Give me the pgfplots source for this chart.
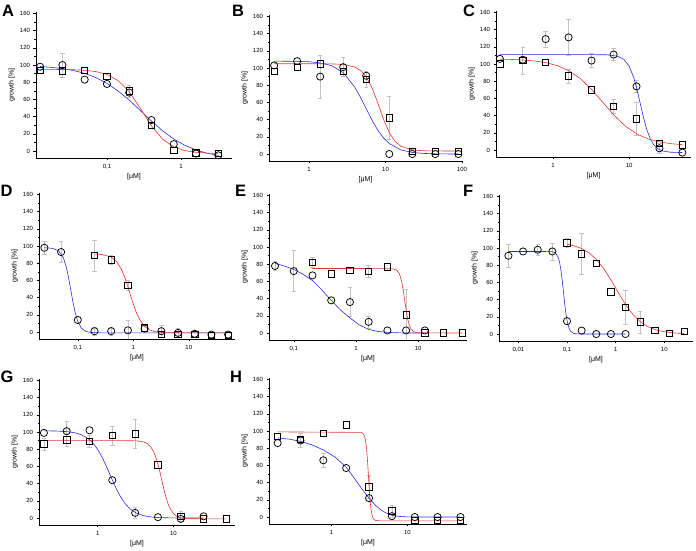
\documentclass[border=0pt]{standalone}
\usepackage{fontspec}
\setmainfont{Liberation Sans}
\usepackage{pgfplots}
\pgfplotsset{compat=1.18}
\definecolor{cred}{RGB}{228,52,52}
\definecolor{cblue}{RGB}{45,45,215}
\definecolor{cerr}{RGB}{195,195,195}
\pgfplotsset{
 /pgfplots/mypanel/.style={scale only axis, height=146.2pt, ymin=-8, ymax=162,
   axis x line*=bottom, axis y line*=left, axis line style={line width=0.5pt},
   ytick={0,20,...,160}, minor y tick num=1, tick align=outside,
   major tick length=2.5pt, minor tick length=1.5pt,
   tick style={black, line width=0.5pt},
   log ticks with fixed point,
   tick label style={font=\fontsize{6}{7}\selectfont},
   label style={font=\fontsize{7}{8}\selectfont},
   ylabel={growth [\%]}, xlabel={[μM]},
   xlabel style={yshift=2pt}, ylabel style={yshift=-2pt},
   anchor=south west},
 /pgfplots/eb/.style={only marks, mark=*, mark size=0pt, mark options={draw=none, fill=none}, forget plot,
   error bars/.cd, y dir=both, y explicit,
   error bar style={cerr, line width=0.6pt},
   error mark options={cerr, draw=cerr, rotate=90, mark size=2.2pt, line width=0.6pt}},
 /pgfplots/bc/.style={cblue, line width=0.6pt, mark=none},
 /pgfplots/rc/.style={cred, line width=0.6pt, mark=none},
 /pgfplots/ci/.style={only marks, mark=o, mark size=3.6pt, mark options={black, line width=0.75pt}},
 /pgfplots/sq/.style={only marks, mark=square, mark size=3.2pt, mark options={black, line width=0.75pt}},
}
\pgfkeys{/pgf/number format/.cd, use comma, assume math mode=true, 1000 sep={}}
\begin{document}
\begin{tikzpicture}
\useasboundingbox (0,0) rectangle (696pt,550pt);
% ---------------- A
\begin{axis}[xmode=log, mypanel, at={(36pt,392.1pt)}, width=196pt, xmin=0.011, xmax=4.9]
\addplot[eb] coordinates {(0.025,100) +- (0,14) (0.2,70) +- (0,7)};
\addplot[bc] coordinates {(0.0125,98.3)(0.0177,97.3)(0.025,95.8)(0.0354,93.6)(0.05,90.3)(0.0707,85.4)(0.1,78.7)(0.141,69.9)(0.2,59.2)(0.283,47.1)(0.4,34.8)(0.566,23.5)(0.8,14.0)(1.13,6.6)(1.6,1.2)(2.26,-2.6)(3.2,-5.2)};
\addplot[rc] coordinates {(0.0125,95.0)(0.0177,94.9)(0.025,94.8)(0.0354,94.5)(0.05,93.9)(0.0707,92.4)(0.1,89.1)(0.141,82.0)(0.2,68.9)(0.283,49.6)(0.4,29.1)(0.566,13.7)(0.8,4.8)(1.13,0.43)(1.6,-1.53)(2.26,-2.38)(3.2,-2.74)};
\addplot[ci] coordinates {(0.0125,98)(0.025,100)(0.05,83)(0.1,78)(0.2,68)(0.4,36)(0.8,8)(1.6,-3)(3.2,-5)};
\addplot[sq] coordinates {(0.0125,94)(0.025,93)(0.05,94)(0.1,87)(0.2,70)(0.4,30)(0.8,1)(1.6,-2)(3.2,-3)};
\end{axis}
% ---------------- B
\begin{axis}[xmode=log, mypanel, at={(269pt,389.1pt)}, width=193pt, xmin=0.30, xmax=100]
\addplot[eb] coordinates {(1.4,90) +- (0,25) (2.8,101) +- (0,11) (5.6,87) +- (0,9) (11.2,42) +- (0,25)};
\addplot[bc] coordinates {(0.35,108)(0.495,107.9)(0.7,107.7)(0.99,107.3)(1.4,106.0)(1.98,102.7)(2.8,94.7)(3.96,77.9)(4.7,66.1)(5.6,52.6)(6.66,39.4)(7.92,27.8)(9.4,18.8)(11.2,12.2)(15.8,4.84)(22.4,1.81)(31.7,0.67)(44.8,0.25)(63.4,0.09)(89.6,0.03)};
\addplot[rc] coordinates {(0.35,105)(0.7,105)(1.4,105)(1.98,104.8)(2.8,104.2)(3.96,101.2)(4.7,97.3)(5.6,89.7)(6.66,77.1)(7.92,59.5)(9.4,40.7)(11.2,24.9)(13.3,14.8)(15.8,9.1)(22.4,4.77)(31.7,3.78)(44.8,3.6)(89.6,3.5)};
\addplot[ci] coordinates {(0.35,103)(0.7,108)(1.4,90)(2.8,101)(5.6,91)(11.2,0)(22.4,0)(44.8,0)(89.6,0)};
\addplot[sq] coordinates {(0.35,96)(0.7,101)(1.4,105)(2.8,96)(5.6,87)(11.2,42)(22.4,3)(44.8,3)(89.6,3)};
\end{axis}
% ---------------- C
\begin{axis}[xmode=log, mypanel, at={(496pt,393.1pt)}, width=195pt, xmin=0.178, xmax=65]
\addplot[eb] coordinates {(0.4,104) +- (0,16) (0.8,129) +- (0,9) (1.6,131) +- (0,21) (1.6,86) +- (0,8) (3.2,104) +- (0,8) (6.25,111) +- (0,7) (6.25,51) +- (0,8) (12.5,74) +- (0,7) (12.5,36) +- (0,19) (25,2) +- (0,6)};
\addplot[bc] coordinates {(0.2,111)(1,111)(5,110.8)(7,109.2)(8.5,105.5)(10,97.6)(11.5,84.2)(12.5,72.6)(14,54)(15.5,37.1)(17,24.1)(19,12.7)(21,6.2)(24,1.3)(28,-1.25)(35,-2.54)(50,-2.9)};
\addplot[rc] coordinates {(0.2,105.6)(0.283,105.3)(0.4,104.7)(0.566,103.6)(0.8,101.7)(1.13,98.2)(1.6,92.4)(2.26,83.4)(3.2,70.5)(4.53,55.2)(6.4,40.0)(9.05,27.3)(12.8,18.4)(18.1,12.6)(25.6,9.2)(36.2,7.3)(50,6.3)};
\addplot[ci] coordinates {(0.2,106)(0.4,105)(0.8,129)(1.6,131)(3.2,104)(6.25,111)(12.5,74)(25,2)(50,-3)};
\addplot[sq] coordinates {(0.2,100)(0.4,104)(0.8,102)(1.6,86)(3.2,70)(6.25,51)(12.5,36)(25,8)(50,6)};
\end{axis}
% ---------------- D
\begin{axis}[xmode=log, mypanel, at={(39pt,211.1pt)}, width=196pt, xmin=0.020, xmax=68]
\addplot[eb] coordinates {(0.025,98) +- (0,8) (0.05,93) +- (0,12) (0.2,89) +- (0,18) (0.4,84) +- (0,5) (0.8,54) +- (0,6) (0.8,2) +- (0,12) (0.2,1) +- (0,5) (0.4,1) +- (0,5) (3.2,1) +- (0,7) (6.4,-1) +- (0,5)};
\addplot[bc] coordinates {(0.025,98)(0.035,97.3)(0.045,94.5)(0.055,86.4)(0.062,75.7)(0.068,63.7)(0.075,48.5)(0.082,34.5)(0.09,22.2)(0.1,12.2)(0.115,4.8)(0.135,1.1)(0.17,-0.5)(0.25,-0.9)(0.5,-1)(51.2,-1)};
\addplot[rc] coordinates {(0.2,90.7)(0.28,90.0)(0.4,87.1)(0.5,81.9)(0.6,74.0)(0.7,63.8)(0.8,52.6)(0.9,41.9)(1.0,32.5)(1.15,21.7)(1.3,14.4)(1.6,6.4)(2.0,2.2)(2.6,0.1)(3.5,-0.6)(6,-0.9)(51.2,-1)};
\addplot[ci] coordinates {(0.025,98)(0.05,93)(0.1,14)(0.2,1)(0.4,1)(0.8,2)(1.6,4)(3.2,1)(6.4,-1)(12.8,-2)(25.6,-3)(51.2,-3)};
\addplot[sq] coordinates {(0.2,89)(0.4,84)(0.8,54)(1.6,5)(3.2,-3)(6.4,-3)(12.8,-3)(25.6,-4)(51.2,-4)};
\end{axis}
% ---------------- E
\begin{axis}[xmode=log, mypanel, at={(269pt,210.1pt)}, width=198pt, xmin=0.040, xmax=61]
\addplot[eb] coordinates {(0.05,78) +- (0,5) (0.1,72) +- (0,24) (0.2,82) +- (0,6) (0.8,36) +- (0,17) (1.6,72) +- (0,7) (1.6,13) +- (0,7) (6.4,21) +- (0,30)};
\addplot[bc] coordinates {(0.05,81)(0.07,78)(0.1,74)(0.14,68.5)(0.2,61)(0.28,50.5)(0.4,38)(0.56,27)(0.8,17.5)(1.13,9.5)(1.6,4.2)(2.26,1.8)(3.2,0.8)(4.5,0.3)(6.4,0.1)(9,0)(12.8,0)};
\addplot[rc] coordinates {(0.2,75)(1,75)(3,74.9)(4,74.5)(4.5,73.1)(5,68.7)(5.4,60.9)(5.8,48.5)(6.1,37.5)(6.4,27)(6.8,16)(7.2,9)(7.7,4.3)(8.5,1.4)(10,0.2)(51.2,0)};
\addplot[ci] coordinates {(0.05,78)(0.1,72)(0.2,67)(0.4,38)(0.8,36)(1.6,13)(3.2,3)(6.4,3)(12.8,3)};
\addplot[sq] coordinates {(0.2,82)(0.4,69)(0.8,73)(1.6,72)(3.2,77)(6.4,21)(12.8,0)(25.6,0)(51.2,0)};
\end{axis}
% ---------------- F
\begin{axis}[xmode=log, mypanel, at={(499pt,209.1pt)}, width=194pt, xmin=0.004, xmax=39]
\addplot[eb] coordinates {(0.00625,91) +- (0,13) (0.025,98) +- (0,6) (0.05,96) +- (0,10) (0.1,106) +- (0,5) (0.2,93) +- (0,24) (1.6,31) +- (0,20) (3.2,14) +- (0,13)};
\addplot[bc] coordinates {(0.00625,96)(0.03,96)(0.045,95.8)(0.05,95.5)(0.055,94.8)(0.06,93.1)(0.065,89.8)(0.07,84)(0.075,74.6)(0.08,62.1)(0.085,48)(0.09,34.6)(0.095,23.8)(0.1,15.8)(0.11,6.8)(0.12,2.95)(0.135,0.9)(0.15,0.3)(0.2,0)(1.6,0)};
\addplot[rc] coordinates {(0.1,104.4)(0.141,102.5)(0.2,99.4)(0.283,94.5)(0.4,86.9)(0.566,76.3)(0.8,62.9)(1.13,48.3)(1.6,34.3)(2.26,22.9)(3.2,14.4)(4.53,8.8)(6.4,5.2)(9.05,3.07)(12.8,1.8)(18.1,1.03)(25.6,0.6)};
\addplot[ci] coordinates {(0.00625,91)(0.0125,96)(0.025,98)(0.05,96)(0.1,15)(0.2,4)(0.4,0)(0.8,0)(1.6,0)};
\addplot[sq] coordinates {(0.1,106)(0.2,93)(0.4,82)(0.8,49)(1.6,31)(3.2,14)(6.4,4)(12.8,1)(25.6,3)};
\end{axis}
% ---------------- G
\begin{axis}[xmode=log, mypanel, at={(39pt,25.1pt)}, width=196pt, xmin=0.168, xmax=65]
\addplot[eb] coordinates {(0.39,101) +- (0,11) (0.195,86) +- (0,7) (0.39,91) +- (0,8) (0.78,89) +- (0,7) (1.56,96) +- (0,11) (3.125,98) +- (0,17) (3.125,6) +- (0,6) (12.5,2) +- (0,6)};
\addplot[bc] coordinates {(0.195,101.4)(0.3,101.1)(0.4,100.4)(0.5,99.1)(0.6,97.1)(0.7,94.1)(0.8,90.2)(0.9,85.4)(1.0,79.8)(1.15,70.3)(1.3,60.3)(1.45,50.8)(1.6,42.1)(1.8,32.4)(2.0,24.9)(2.3,16.8)(2.7,10.3)(3.2,6.0)(4,2.8)(5,1.3)(6.5,0.5)(9,0.2)(12.5,0)(25,0)};
\addplot[rc] coordinates {(0.195,90)(2,90)(3,89.8)(3.5,89.5)(4,88.6)(4.5,86.7)(5,83)(5.5,76.9)(6,67.9)(6.5,56.7)(7,44.5)(7.5,33.1)(8,23.7)(8.5,16.5)(9,11.3)(10,5.1)(11,2.1)(12.5,0.2)(15,-0.7)(25,-1)(50,-1)};
\addplot[ci] coordinates {(0.195,99)(0.39,101)(0.78,102)(1.56,44)(3.125,6)(6.25,1)(12.5,-1)(25,2)};
\addplot[sq] coordinates {(0.195,86)(0.39,91)(0.78,89)(1.56,96)(3.125,98)(6.25,62)(12.5,2)(25,-1)(50,-1)};
\end{axis}
% ---------------- H
\begin{axis}[xmode=log, mypanel, at={(269pt,26.1pt)}, width=198pt, xmin=0.15, xmax=61]
\addplot[eb] coordinates {(0.39,89) +- (0,8) (0.78,66) +- (0,8) (3.125,35) +- (0,13) (6.25,7) +- (0,7)};
\addplot[bc] coordinates {(0.195,92)(0.28,90.5)(0.39,88)(0.55,84)(0.78,78)(1.1,70)(1.56,58)(2.0,45)(2.5,33)(3.125,22)(3.8,13.5)(4.5,8)(5.3,4.5)(6.25,2)(7.5,0.8)(9,0.3)(12.5,0)(50,0)};
\addplot[rc] coordinates {(0.195,99)(2.5,98.4)(2.7,95)(2.8,89.6)(2.9,79)(3.0,61.8)(3.05,51.4)(3.125,35.9)(3.2,22.6)(3.3,10.1)(3.45,0.8)(3.6,-2.6)(3.8,-4.0)(4.5,-4.5)(50,-4.5)};
\addplot[ci] coordinates {(0.195,86)(0.39,89)(0.78,66)(1.56,57)(3.125,22)(6.25,1)(12.5,0)(25,0)(50,0)};
\addplot[sq] coordinates {(0.195,94)(0.39,90)(0.78,97)(1.56,107)(3.125,35)(6.25,7)(12.5,-4)(25,-4)(50,-4)};
\end{axis}
% ---------------- panel letters
\begin{scope}[every node/.style={anchor=base west, inner sep=0pt, font=\fontsize{16.5}{17}\selectfont\bfseries}]
\node at (2pt,533pt) {A};
\node at (232pt,533pt) {B};
\node at (463pt,533pt) {C};
\node at (0.5pt,354pt) {D};
\node at (235pt,353pt) {E};
\node at (463pt,354pt) {F};
\node at (0.5pt,168pt) {G};
\node at (230pt,168pt) {H};
\end{scope}
\end{tikzpicture}
\end{document}
